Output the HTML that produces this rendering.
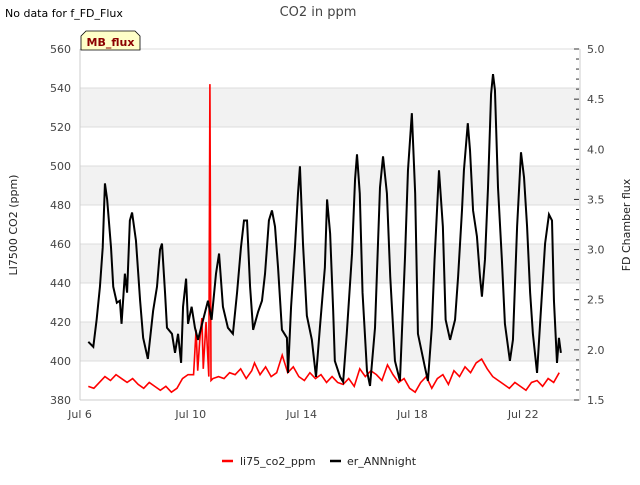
<!DOCTYPE html>
<html><head><meta charset="utf-8"><style>
body{margin:0;background:#fff;font-family:"Liberation Sans","DejaVu Sans",sans-serif}
svg text{font-family:"DejaVu Sans","Liberation Sans",sans-serif}
</style></head><body>
<svg id="c" width="640" height="480" xmlns="http://www.w3.org/2000/svg">
<text x="5" y="17" font-size="11" fill="#000">No data for f_FD_Flux</text>
<text x="318" y="16" font-size="13" fill="#444" text-anchor="middle">CO2 in ppm</text>
<g id="bands"></g><g id="grid"></g><g id="axes"></g><g id="series"></g>
<g>
<path d="M81,50 L81,36 L86,31 L135,31 L140,36 L140,50 Z" fill="#ffffc8" stroke="#000" stroke-width="0.8"/>
<text x="110.5" y="46" font-size="11" font-weight="bold" fill="#8b0000" text-anchor="middle">MB_flux</text>
</g>
<text transform="translate(17,225) rotate(-90)" font-size="11" fill="#222" text-anchor="middle">LI7500 CO2 (ppm)</text>
<text transform="translate(630,225) rotate(-90)" font-size="11" fill="#222" text-anchor="middle">FD Chamber flux</text>
<g>
<g><line x1="222" y1="461" x2="233" y2="461" stroke="#f00" stroke-width="2.5"/><text x="240" y="465" font-size="11" fill="#222">li75_co2_ppm</text></g>
<g><line x1="330" y1="461" x2="341" y2="461" stroke="#000" stroke-width="2.5"/><text x="347" y="465" font-size="11" fill="#222">er_ANNnight</text></g>
</g>
</svg>
<script>
const xTickLabels=["Jul 6","Jul 10","Jul 14","Jul 18","Jul 22"];
const xTickDays=[0,4,8,12,16];
const yTicks=[380,400,420,440,460,480,500,520,540,560];
const rTicks=[1.5,2.0,2.5,3.0,3.5,4.0,4.5,5.0];
const blackT=[0.3,0.48,0.6,0.72,0.82,0.9,0.98,1.12,1.2,1.33,1.44,1.5,1.62,1.7,1.8,1.88,2.02,2.17,2.28,2.45,2.64,2.78,2.89,2.96,3.07,3.14,3.32,3.43,3.54,3.65,3.72,3.83,3.9,4.03,4.15,4.26,4.62,4.75,4.91,5.02,5.16,5.34,5.52,5.67,5.81,5.92,6.03,6.14,6.25,6.43,6.57,6.68,6.82,6.93,7.04,7.15,7.29,7.47,7.51,7.62,7.76,7.87,7.94,8.05,8.19,8.37,8.52,8.66,8.84,
8.92,9.03,9.14,9.2,9.39,9.5,9.63,9.82,9.93,10.0,10.1,10.2,10.36,10.47,10.65,10.83,10.94,11.08,11.2,11.37,11.55,11.73,11.84,11.98,12.1,12.2,12.45,12.56,12.7,12.8,12.96,13.1,13.2,13.36,13.54,13.65,13.79,13.86,14.0,14.08,14.19,14.33,14.44,14.51,14.62,14.73,14.84,14.91,14.98,15.09,15.23,15.34,15.52,15.63,15.78,15.92,16.03,16.14,16.25,16.35,16.5,16.6,16.79,16.93,17.04,17.11,17.22,17.29,17.36];
const blackV=[2.08,2.03,2.30,2.63,3.02,3.66,3.50,3.02,2.63,2.47,2.49,2.26,2.76,2.57,3.29,3.37,3.09,2.49,2.12,1.91,2.39,2.63,3.00,3.06,2.57,2.22,2.16,1.97,2.16,1.87,2.43,2.71,2.26,2.43,2.22,2.10,2.49,2.30,2.76,2.96,2.43,2.22,2.16,2.57,3.02,3.29,3.29,2.63,2.20,2.38,2.49,2.76,3.29,3.39,3.23,2.82,2.20,2.12,1.77,2.43,3.02,3.56,3.83,3.06,2.34,2.10,1.73,2.22,2.82,
3.50,3.16,2.39,1.89,1.73,1.68,2.16,2.96,3.70,3.95,3.56,2.57,1.79,1.64,2.22,3.62,3.93,3.56,2.73,1.89,1.69,2.90,3.79,4.36,3.56,2.16,1.83,1.69,2.22,2.90,3.79,3.23,2.30,2.10,2.30,2.73,3.39,3.79,4.26,3.99,3.39,3.13,2.73,2.53,2.90,3.62,4.55,4.75,4.59,3.62,2.90,2.26,1.89,2.10,3.23,3.97,3.72,3.23,2.57,2.16,1.77,2.22,3.06,3.35,3.29,2.49,1.87,2.12,1.97];
const redT=[0.3,0.5,0.7,0.9,1.1,1.3,1.5,1.7,1.9,2.1,2.3,2.5,2.7,2.9,3.1,3.3,3.5,3.7,3.9,4.1,4.19,4.25,4.32,4.4,4.45,4.55,4.65,4.69,4.73,4.8,5.0,5.2,5.4,5.6,5.8,6.0,6.2,6.3,6.5,6.7,6.9,7.1,7.3,7.5,7.7,7.9,8.1,8.3,8.5,8.7,8.9,9.1,9.3,9.5,9.7,9.9,10.1,10.3,10.5,10.7,10.9,11.1,11.3,11.5,11.7,11.9,12.1,12.3,12.5,12.7,12.9,13.1,13.3,13.5,13.7,13.9,14.1,14.3,14.5,14.7,14.9,15.1,15.3,15.5,15.7,15.9,16.1,16.3,16.5,16.7,16.9,17.1,17.3];
const redV=[387,386,389,392,390,393,391,389,391,388,386,389,387,385,387,384,386,391,393,393,416,395,410,422,396,420,392,542,390,391,392,391,394,393,396,391,395,399,393,397,392,394,403,394,397,392,390,394,391,393,389,392,389,388,391,387,396,392,395,393,390,398,393,389,391,386,384,389,392,386,391,393,388,395,392,397,394,399,401,396,392,390,388,386,389,387,385,389,390,387,391,389,394];
const NS="http://www.w3.org/2000/svg";
const X0=80,X1=580,Y0=49,Y1=400,DAY=27.7;
function xs(d){return X0+d*DAY;}
function yl(v){return Y1-(v-380)/180*(Y1-Y0);}
function yr(v){return Y1-(v-1.5)/3.5*(Y1-Y0);}
function mk(tag,attrs,parent){const e=document.createElementNS(NS,tag);for(const k in attrs)e.setAttribute(k,attrs[k]);parent.appendChild(e);return e;}
const bands=document.getElementById('bands'),grid=document.getElementById('grid'),axes=document.getElementById('axes'),series=document.getElementById('series');
for(let i=0;i<yTicks.length-1;i++){if(i%2===0)continue;const r=mk('rect',{x:X0,y:yl(yTicks[i+1]),width:X1-X0,height:yl(yTicks[i])-yl(yTicks[i+1]),fill:'#f2f2f2'},bands);

}
yTicks.forEach(v=>{const l=mk('line',{x1:X0,x2:X1,y1:yl(v),y2:yl(v),stroke:'#dcdcdc','stroke-width':1},grid);


const t=mk('text',{x:71,y:yl(v)+4,'font-size':11,fill:'#444','text-anchor':'end'},axes);t.textContent=v;

});
mk('line',{x1:X0,x2:X0,y1:Y0,y2:Y1,stroke:'#ccc'},axes);
mk('line',{x1:X0,x2:X1,y1:Y1,y2:Y1,stroke:'#ccc'},axes);
mk('line',{x1:X1,x2:X1,y1:Y0,y2:Y1,stroke:'#ccc'},axes);
for(let k=0;k<=35;k++){const v=1.5+k*0.1;const maj=k%5===0;mk('line',{x1:maj?574:576,x2:579,y1:yr(v),y2:yr(v),stroke:'#333'},axes);}
rTicks.forEach(v=>{const t=mk('text',{x:587,y:yr(v)+4,'font-size':11,fill:'#444'},axes);t.textContent=v.toFixed(1);

});
xTickDays.forEach((d,i)=>{const t=mk('text',{x:xs(d),y:418,'font-size':11,fill:'#444','text-anchor':'middle'},axes);t.textContent=xTickLabels[i];

});
const rp=mk('polyline',{points:redT.map((t,i)=>xs(t)+','+yl(redV[i])).join(' '),fill:'none',stroke:'#f00','stroke-width':1.6},series);


const bp=mk('polyline',{points:blackT.map((t,i)=>xs(t)+','+yr(blackV[i])).join(' '),fill:'none',stroke:'#000','stroke-width':2},series);


</script>
</body></html>
